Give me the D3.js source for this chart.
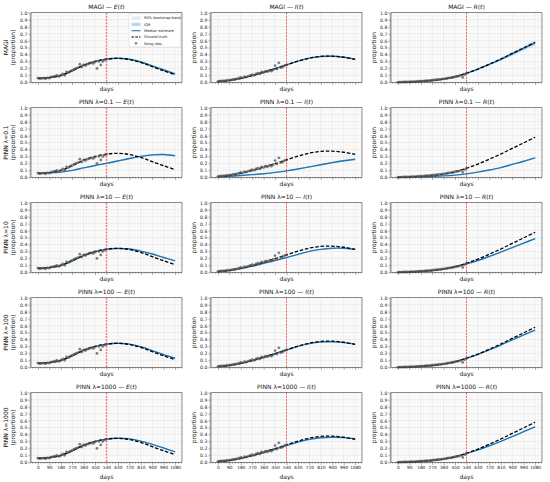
<!DOCTYPE html>
<html>
<head>
<meta charset="utf-8">
<script src="https://cdn.jsdelivr.net/npm/d3@7"></script>
<style>
  body { margin: 0; background: #fff; }
  svg { font-family: "DejaVu Sans", sans-serif; }
</style>
</head>
<body>
<div id="chart"></div>
<script>
// ---- data ----
const days = [0, 90, 180, 270, 360, 450, 540, 630, 720, 810, 900, 990, 1080];
const xTicks = [0, 90, 180, 270, 360, 450, 540, 630, 720, 810, 900, 990, 1080];
const yTicks = [0, 0.1, 0.2, 0.3, 0.4, 0.5, 0.6, 0.7, 0.8, 0.9, 1.0];
const models = ["MAGI", "PINN λ=0.1", "PINN λ=10", "PINN λ=100", "PINN λ=1000"];
const compartments = ["E", "I", "R"];
const trainEnd = 540;

// ground truth
const truthE = [0.058, 0.068, 0.098, 0.165, 0.245, 0.300, 0.333, 0.345, 0.328, 0.285, 0.225, 0.165, 0.110];
const truthI = [0.012, 0.025, 0.055, 0.095, 0.145, 0.195, 0.250, 0.305, 0.348, 0.372, 0.375, 0.360, 0.330];
const truthR = [0.000, 0.004, 0.012, 0.025, 0.045, 0.080, 0.130, 0.190, 0.260, 0.335, 0.415, 0.495, 0.575];

// median estimates
const magiE = [0.058, 0.068, 0.098, 0.165, 0.245, 0.300, 0.333, 0.346, 0.332, 0.292, 0.235, 0.177, 0.120];
const magiI = [0.012, 0.025, 0.055, 0.095, 0.145, 0.195, 0.250, 0.305, 0.348, 0.371, 0.374, 0.359, 0.330];
const magiR = [0.000, 0.004, 0.012, 0.025, 0.045, 0.080, 0.130, 0.190, 0.258, 0.330, 0.410, 0.488, 0.565];
const pinn01E = [0.058, 0.063, 0.075, 0.100, 0.135, 0.170, 0.200, 0.235, 0.270, 0.300, 0.322, 0.328, 0.310];
const pinn01I = [0.010, 0.015, 0.025, 0.038, 0.052, 0.070, 0.093, 0.120, 0.150, 0.180, 0.210, 0.237, 0.260];
const pinn01R = [0.000, 0.002, 0.006, 0.012, 0.020, 0.032, 0.050, 0.075, 0.105, 0.140, 0.185, 0.230, 0.280];
const pinn10E = [0.060, 0.068, 0.097, 0.163, 0.240, 0.295, 0.330, 0.342, 0.335, 0.305, 0.263, 0.213, 0.165];
const pinn10I = [0.012, 0.025, 0.052, 0.088, 0.130, 0.170, 0.210, 0.258, 0.300, 0.330, 0.345, 0.345, 0.330];
const pinn10R = [0.000, 0.004, 0.012, 0.025, 0.045, 0.078, 0.120, 0.170, 0.228, 0.290, 0.355, 0.420, 0.485];
const pinn100E = [0.060, 0.068, 0.098, 0.165, 0.245, 0.300, 0.333, 0.345, 0.333, 0.295, 0.240, 0.183, 0.130];
const pinn100I = [0.012, 0.025, 0.055, 0.095, 0.145, 0.195, 0.248, 0.300, 0.340, 0.362, 0.366, 0.354, 0.330];
const pinn100R = [0.000, 0.004, 0.012, 0.025, 0.045, 0.080, 0.130, 0.187, 0.250, 0.320, 0.395, 0.465, 0.535];
const pinn1000E = [0.060, 0.068, 0.098, 0.165, 0.245, 0.300, 0.333, 0.345, 0.337, 0.305, 0.258, 0.205, 0.150];
const pinn1000I = [0.012, 0.025, 0.055, 0.095, 0.143, 0.190, 0.240, 0.290, 0.330, 0.352, 0.360, 0.355, 0.338];
const pinn1000R = [0.000, 0.004, 0.012, 0.025, 0.045, 0.078, 0.125, 0.178, 0.238, 0.302, 0.370, 0.440, 0.510];

// band half-widths (90% bootstrap band and IQR)
const magi90E   = [0.003, 0.003, 0.003, 0.004, 0.004, 0.004, 0.004, 0.006, 0.010, 0.014, 0.018, 0.021, 0.024];
const magiIqrE  = [0.001, 0.001, 0.001, 0.002, 0.002, 0.002, 0.002, 0.003, 0.004, 0.006, 0.007, 0.008, 0.010];
const magi90I   = [0.002, 0.002, 0.002, 0.003, 0.003, 0.003, 0.003, 0.004, 0.005, 0.006, 0.007, 0.008, 0.009];
const magiIqrI  = [0.001, 0.001, 0.001, 0.001, 0.001, 0.001, 0.001, 0.002, 0.002, 0.003, 0.003, 0.003, 0.004];
const magi90R   = [0.000, 0.001, 0.002, 0.002, 0.003, 0.004, 0.005, 0.010, 0.016, 0.022, 0.028, 0.034, 0.040];
const magiIqrR  = [0.000, 0.000, 0.001, 0.001, 0.001, 0.002, 0.002, 0.004, 0.006, 0.008, 0.011, 0.013, 0.015];
const pinn01_90E  = [0.002, 0.003, 0.004, 0.006, 0.008, 0.010, 0.012, 0.013, 0.014, 0.014, 0.013, 0.012, 0.010];
const pinn01IqrE  = [0.001, 0.001, 0.002, 0.003, 0.003, 0.004, 0.005, 0.005, 0.006, 0.006, 0.005, 0.005, 0.004];
const pinn01_90I  = [0.001, 0.002, 0.003, 0.004, 0.005, 0.006, 0.007, 0.008, 0.010, 0.012, 0.013, 0.014, 0.015];
const pinn01IqrI  = [0.000, 0.001, 0.001, 0.002, 0.002, 0.002, 0.003, 0.003, 0.004, 0.005, 0.005, 0.006, 0.006];
const pinn01_90R  = [0.000, 0.001, 0.001, 0.002, 0.002, 0.003, 0.003, 0.004, 0.005, 0.006, 0.008, 0.010, 0.012];
const pinn01IqrR  = [0.000, 0.000, 0.000, 0.001, 0.001, 0.001, 0.001, 0.002, 0.002, 0.002, 0.003, 0.004, 0.005];
const pinnHi90E   = [0.002, 0.002, 0.002, 0.003, 0.003, 0.003, 0.003, 0.004, 0.005, 0.006, 0.007, 0.008, 0.009];
const pinnHiIqrE  = [0.001, 0.001, 0.001, 0.001, 0.001, 0.001, 0.001, 0.002, 0.002, 0.002, 0.003, 0.003, 0.004];
const pinnHi90I   = [0.001, 0.002, 0.002, 0.002, 0.003, 0.003, 0.003, 0.004, 0.005, 0.006, 0.006, 0.007, 0.008];
const pinnHiIqrI  = [0.000, 0.001, 0.001, 0.001, 0.001, 0.001, 0.001, 0.002, 0.002, 0.002, 0.002, 0.003, 0.003];
const pinnHi90R   = [0.000, 0.001, 0.001, 0.001, 0.002, 0.002, 0.003, 0.004, 0.005, 0.007, 0.008, 0.010, 0.012];
const pinnHiIqrR  = [0.000, 0.000, 0.000, 0.000, 0.001, 0.001, 0.001, 0.002, 0.002, 0.003, 0.003, 0.004, 0.005];

// noisy observations (training window only)
const obsDays = [0, 15, 30, 45, 60, 75, 90, 105, 120, 135, 150, 165, 180, 195, 210, 225, 240, 255, 270,
                 285, 300, 315, 330, 345, 360, 375, 390, 405, 420, 435, 450, 465, 480, 495, 510, 525, 540];
const obsE = [0.060, 0.050, 0.055, 0.060, 0.050, 0.065, 0.060, 0.075, 0.080, 0.090, 0.100, 0.085, 0.100,
              0.120, 0.100, 0.150, 0.140, 0.160, 0.170, 0.190, 0.200, 0.210, 0.260, 0.220, 0.250, 0.240,
              0.260, 0.270, 0.280, 0.270, 0.290, 0.200, 0.300, 0.250, 0.300, 0.320, 0.330];
const obsI = [0.010, 0.015, 0.020, 0.020, 0.025, 0.030, 0.030, 0.035, 0.040, 0.045, 0.050, 0.060, 0.070,
              0.065, 0.080, 0.075, 0.090, 0.100, 0.110, 0.100, 0.120, 0.130, 0.120, 0.150, 0.140, 0.160,
              0.150, 0.170, 0.160, 0.180, 0.240, 0.190, 0.280, 0.210, 0.220, 0.240, 0.250];
const obsR = [0.000, 0.002, 0.003, 0.004, 0.004, 0.005, 0.006, 0.008, 0.010, 0.010, 0.012, 0.015, 0.016,
              0.018, 0.020, 0.022, 0.025, 0.028, 0.030, 0.033, 0.036, 0.040, 0.042, 0.046, 0.050, 0.054,
              0.058, 0.063, 0.068, 0.072, 0.080, 0.085, 0.090, 0.100, 0.070, 0.110, 0.130];

// ---- tables built from the arrays above ----
const truth = {E: truthE, I: truthI, R: truthR};
const obs = {E: obsE, I: obsI, R: obsR};
const medians = [
  {E: magiE, I: magiI, R: magiR},
  {E: pinn01E, I: pinn01I, R: pinn01R},
  {E: pinn10E, I: pinn10I, R: pinn10R},
  {E: pinn100E, I: pinn100I, R: pinn100R},
  {E: pinn1000E, I: pinn1000I, R: pinn1000R}
];
const pinnHiBand = {E: [pinnHi90E, pinnHiIqrE], I: [pinnHi90I, pinnHiIqrI], R: [pinnHi90R, pinnHiIqrR]};
const bands = [
  {E: [magi90E, magiIqrE], I: [magi90I, magiIqrI], R: [magi90R, magiIqrR]},
  {E: [pinn01_90E, pinn01IqrE], I: [pinn01_90I, pinn01IqrI], R: [pinn01_90R, pinn01IqrR]},
  pinnHiBand, pinnHiBand, pinnHiBand
];

// ---- layout ----
const width = 550, height = 482;
const axW = 151, axH = 69.6;
const colLeft = [31, 211, 391];
const rowTop0 = 12.7, rowStep = 95;
const blue = "#1f77b4";

const svg = d3.select("#chart").append("svg")
              .attr("width", width)
              .attr("height", height);

const x = d3.scaleLinear().domain([-54, 1134]).range([0, axW]);
const y = d3.scaleLinear().domain([0, 1]).range([axH, 0]);

const xMinor = d3.range(-45, 1134, 22.5).filter(v => !xTicks.includes(v));
const yMinor = d3.range(0, 1.0001, 0.02).filter(v => Math.abs(Math.round(v * 10) - v * 10) > 1e-6);

const line = d3.line()
               .x(d => x(d.t))
               .y(d => y(d.v))
               .curve(d3.curveCatmullRom);

const area = d3.area()
               .x(d => x(d.t))
               .y0(d => y(d.v - d.w))
               .y1(d => y(d.v + d.w))
               .curve(d3.curveCatmullRom);

models.forEach((model, r) => {
  compartments.forEach((comp, c) => {
    const g = svg.append("g")
                 .attr("transform", `translate(${colLeft[c]},${rowTop0 + r * rowStep})`);

    // grid: minor then major
    g.append("g").selectAll("line").data(xMinor).enter().append("line")
     .attr("x1", d => x(d)).attr("x2", d => x(d)).attr("y1", 0).attr("y2", axH)
     .attr("stroke", "#efefef").attr("stroke-width", 0.4);
    g.append("g").selectAll("line").data(yMinor).enter().append("line")
     .attr("y1", d => y(d)).attr("y2", d => y(d)).attr("x1", 0).attr("x2", axW)
     .attr("stroke", "#efefef").attr("stroke-width", 0.4);
    g.append("g").selectAll("line").data(xTicks).enter().append("line")
     .attr("x1", d => x(d)).attr("x2", d => x(d)).attr("y1", 0).attr("y2", axH)
     .attr("stroke", "#dcdcdc").attr("stroke-width", 0.5);
    g.append("g").selectAll("line").data(yTicks).enter().append("line")
     .attr("y1", d => y(d)).attr("y2", d => y(d)).attr("x1", 0).attr("x2", axW)
     .attr("stroke", "#dcdcdc").attr("stroke-width", 0.5);

    const med = medians[r][comp];
    const [b90, bIqr] = bands[r][comp];
    const band90 = days.map((t, i) => ({t, v: med[i], w: b90[i]}));
    const bandIqr = days.map((t, i) => ({t, v: med[i], w: bIqr[i]}));

    g.append("path").attr("d", area(band90))
     .attr("fill", blue).attr("fill-opacity", 0.15);
    g.append("path").attr("d", area(bandIqr))
     .attr("fill", blue).attr("fill-opacity", 0.3);

    // training / forecast split
    g.append("line")
     .attr("x1", x(trainEnd)).attr("x2", x(trainEnd)).attr("y1", 0).attr("y2", axH)
     .attr("stroke", "red")
     .attr("stroke-opacity", c === 0 ? 0.45 : 0.75)
     .attr("stroke-width", c === 0 ? 1.6 : 0.8)
     .attr("stroke-dasharray", "2,1.2");

    g.append("path").attr("d", line(days.map((t, i) => ({t, v: med[i]}))))
     .attr("fill", "none").attr("stroke", blue).attr("stroke-width", 1.4);

    g.append("path").attr("d", line(days.map((t, i) => ({t, v: truth[comp][i]}))))
     .attr("fill", "none").attr("stroke", "#000").attr("stroke-width", 1.3)
     .attr("stroke-dasharray", "3.5,1.8");

    g.append("g").selectAll("circle").data(obsDays).enter().append("circle")
     .attr("cx", d => x(d))
     .attr("cy", (d, i) => y(obs[comp][i]))
     .attr("r", 1.4)
     .attr("fill", "#555").attr("fill-opacity", 0.75);

    // axes
    const xAxis = d3.axisBottom(x).tickValues(xTicks).tickSize(2.5).tickPadding(1.2)
                    .tickFormat(r === models.length - 1 ? d3.format("d") : "");
    g.append("g").attr("transform", `translate(0,${axH})`).call(xAxis)
     .call(a => a.select(".domain").remove())
     .call(a => a.selectAll("line").attr("stroke-width", 0.5).attr("stroke", "#333"))
     .call(a => a.selectAll("text").attr("font-size", 4.3).attr("fill", "#222")
                 .attr("font-family", "DejaVu Sans"));
    g.append("g").attr("transform", `translate(0,${axH})`)
     .call(d3.axisBottom(x).tickValues(xMinor).tickSize(1.4).tickFormat(""))
     .call(a => a.select(".domain").remove())
     .call(a => a.selectAll("line").attr("stroke-width", 0.4).attr("stroke", "#333"));

    const yAxis = d3.axisLeft(y).tickValues(yTicks).tickSize(2.5).tickPadding(1.2)
                    .tickFormat(d3.format(".1f"));
    g.append("g").call(yAxis)
     .call(a => a.select(".domain").remove())
     .call(a => a.selectAll("line").attr("stroke-width", 0.5).attr("stroke", "#333"))
     .call(a => a.selectAll("text").attr("font-size", 4.6).attr("fill", "#222")
                 .attr("font-family", "DejaVu Sans"));
    g.append("g")
     .call(d3.axisLeft(y).tickValues(yMinor).tickSize(1.4).tickFormat(""))
     .call(a => a.select(".domain").remove())
     .call(a => a.selectAll("line").attr("stroke-width", 0.4).attr("stroke", "#333"));

    // frame
    g.append("rect").attr("width", axW).attr("height", axH)
     .attr("fill", "none").attr("stroke", "#444").attr("stroke-width", 0.6);

    // title
    const title = g.append("text")
                   .attr("x", axW / 2).attr("y", -4)
                   .attr("text-anchor", "middle")
                   .attr("font-size", 6)
                   .attr("fill", "#111");
    title.append("tspan").text(`${model} — `);
    title.append("tspan").attr("font-style", "italic").text(comp);
    title.append("tspan").text("(");
    title.append("tspan").attr("font-style", "italic").text("t");
    title.append("tspan").text(")");

    // x label
    g.append("text")
     .attr("x", axW / 2)
     .attr("y", axH + (r === models.length - 1 ? 16.5 : 9.2))
     .attr("text-anchor", "middle")
     .attr("font-size", 6)
     .attr("fill", "#111")
     .text("days");

    // y label
    const yl = g.append("text")
                .attr("transform", `translate(${c === 0 ? -23 : -15.5},${axH / 2}) rotate(-90)`)
                .attr("text-anchor", "middle")
                .attr("font-size", 6)
                .attr("fill", "#111");
    if (c === 0) {
      yl.append("tspan").attr("x", 0).attr("dy", 0).text(model);
      yl.append("tspan").attr("x", 0).attr("dy", 7).text("(proportion)");
    } else {
      yl.text("proportion");
    }

    // legend only in the first panel
    if (r === 0 && c === 0) {
      const lg = g.append("g").attr("transform", `translate(${axW - 53},1.2)`);
      lg.append("rect").attr("width", 51.5).attr("height", 33)
        .attr("rx", 1).attr("fill", "#fff").attr("fill-opacity", 0.85)
        .attr("stroke", "#ccc").attr("stroke-width", 0.4);
      const items = ["90% bootstrap band", "IQR", "Median estimate", "Ground truth", "Noisy obs."];
      items.forEach((label, i) => {
        const yy = 4.2 + i * 6.3;
        if (i === 0 || i === 1) {
          lg.append("rect").attr("x", 2.5).attr("y", yy - 1.6).attr("width", 9).attr("height", 3.2)
            .attr("fill", blue).attr("fill-opacity", i === 0 ? 0.15 : 0.3);
        } else if (i === 2) {
          lg.append("line").attr("x1", 2.5).attr("x2", 11.5).attr("y1", yy).attr("y2", yy)
            .attr("stroke", blue).attr("stroke-width", 1.1);
        } else if (i === 3) {
          lg.append("line").attr("x1", 2.5).attr("x2", 11.5).attr("y1", yy).attr("y2", yy)
            .attr("stroke", "#000").attr("stroke-width", 1.1).attr("stroke-dasharray", "2.6,1.2");
        } else {
          lg.append("circle").attr("cx", 7).attr("cy", yy).attr("r", 1.2)
            .attr("fill", "#555").attr("fill-opacity", 0.75);
        }
        lg.append("text").attr("x", 15).attr("y", yy).attr("dy", "0.35em")
          .attr("font-size", 3.6).attr("fill", "#222").text(label);
      });
    }
  });
});
</script>
</body>
</html>
